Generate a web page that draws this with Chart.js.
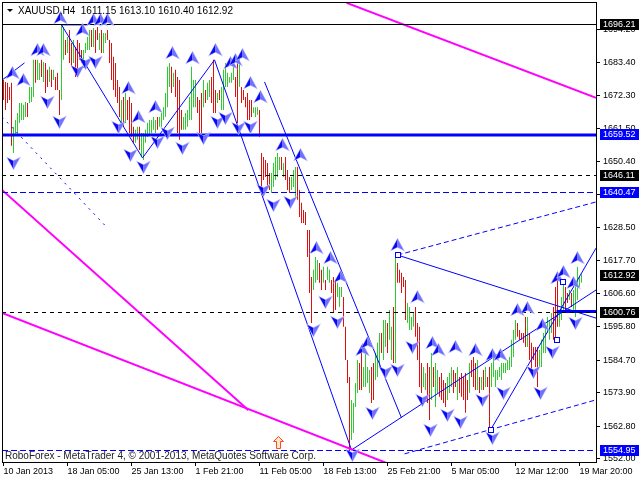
<!DOCTYPE html>
<html>
<head>
<meta charset="utf-8">
<script src="https://cdn.jsdelivr.net/npm/chart.js@4.4.1/dist/chart.umd.min.js"></script>
<style>
  html, body { margin: 0; padding: 0; background: #fff; }
  canvas { display: block; }
</style>
</head>
<body>
<canvas id="goldChart" width="640" height="480"></canvas>
<script>
// XAUUSD H4 bars (one bar every 4 hours)
const barHigh = [
  1677.5, 1676.9, 1676.6, 1675.2, 1676.6, 1662.0, 1664.3, 1666.6, 1669.9, 1669.9,
  1669.3, 1670.2, 1669.9, 1675.2, 1675.2, 1684.2, 1684.2, 1684.2, 1683.2, 1684.2,
  1683.5, 1683.2, 1680.9, 1681.9, 1680.9, 1680.9, 1678.5, 1679.9, 1674.2, 1695.8,
  1695.1, 1690.8, 1691.8, 1694.1, 1689.8, 1690.8, 1688.5, 1690.8, 1689.8, 1687.5,
  1687.5, 1689.8, 1691.8, 1694.1, 1694.1, 1694.8, 1694.1, 1695.1, 1693.1, 1694.1,
  1693.1, 1693.1, 1694.1, 1690.8, 1689.8, 1685.2, 1683.2, 1677.5, 1675.2, 1670.9,
  1671.9, 1673.2, 1670.9, 1671.9, 1669.9, 1662.0, 1661.0, 1662.0, 1662.0, 1660.0,
  1660.0, 1661.0, 1663.3, 1664.3, 1664.3, 1665.3, 1664.3, 1665.3, 1665.3, 1666.6,
  1668.5, 1673.2, 1681.9, 1683.2, 1681.9, 1679.9, 1680.9, 1678.5, 1677.5, 1667.6,
  1665.3, 1666.6, 1667.6, 1671.9, 1681.9, 1677.5, 1677.5, 1671.9, 1670.9, 1673.2,
  1677.5, 1674.2, 1676.6, 1677.5, 1678.5, 1684.2, 1674.2, 1673.2, 1674.2, 1675.2,
  1680.9, 1683.2, 1679.9, 1678.5, 1679.9, 1684.2, 1678.5, 1683.2, 1685.2, 1675.2,
  1674.2, 1671.9, 1673.2, 1670.9, 1670.9, 1668.5, 1668.5, 1668.5, 1667.6, 1653.3,
  1652.0, 1651.0, 1650.0, 1646.7, 1646.7, 1650.0, 1652.0, 1653.3, 1652.0, 1652.0,
  1650.0, 1652.0, 1647.7, 1645.4, 1645.4, 1647.7, 1648.7, 1648.7, 1641.1, 1636.8,
  1634.4, 1633.8, 1627.8, 1627.8, 1612.2, 1614.6, 1618.9, 1617.9, 1616.9, 1614.6,
  1615.6, 1611.2, 1615.6, 1614.6, 1611.2, 1612.2, 1611.2, 1610.3, 1608.9, 1608.9,
  1605.6, 1595.7, 1584.7, 1579.1, 1571.5, 1570.5, 1577.1, 1584.7, 1583.7, 1587.0,
  1582.4, 1587.0, 1582.4, 1581.4, 1582.4, 1583.7, 1587.0, 1590.4, 1593.7, 1593.7,
  1598.0, 1598.0, 1597.0, 1601.3, 1595.7, 1602.3, 1618.9, 1616.9, 1614.6, 1613.6,
  1612.2, 1611.2, 1603.6, 1602.3, 1599.0, 1600.3, 1602.3, 1597.0, 1595.7, 1583.7,
  1582.4, 1580.4, 1583.7, 1582.4, 1587.0, 1582.4, 1583.7, 1581.4, 1579.1, 1580.4,
  1578.1, 1577.1, 1579.1, 1580.4, 1582.4, 1581.4, 1580.4, 1582.4, 1579.1, 1580.4,
  1579.1, 1580.4, 1578.1, 1583.7, 1584.7, 1585.7, 1583.7, 1584.7, 1579.1, 1579.1,
  1581.4, 1582.4, 1579.1, 1582.4, 1583.7, 1585.7, 1581.4, 1581.4, 1582.4, 1583.7,
  1583.7, 1583.7, 1584.7, 1585.7, 1591.4, 1594.7, 1598.0, 1597.0, 1594.7, 1593.7,
  1593.7, 1599.0, 1599.0, 1593.7, 1590.4, 1589.0, 1589.0, 1589.0, 1588.0, 1591.4,
  1593.7, 1595.7, 1599.0, 1598.0, 1600.3, 1602.3, 1608.9, 1611.2, 1601.3, 1605.6,
  1611.2, 1608.9, 1606.9, 1607.9, 1606.9, 1607.9, 1611.2, 1615.6, 1612.2, 1613.1
];
const barLow = [
  1670.9, 1667.6, 1669.9, 1670.9, 1655.7, 1653.3, 1659.3, 1660.0, 1663.3, 1664.3,
  1664.3, 1665.3, 1665.3, 1669.9, 1670.2, 1671.9, 1676.6, 1677.5, 1677.5, 1678.5,
  1676.9, 1673.2, 1675.2, 1676.9, 1675.2, 1677.5, 1674.2, 1674.2, 1665.9, 1670.9,
  1684.2, 1685.8, 1686.5, 1683.2, 1681.9, 1683.2, 1678.5, 1679.9, 1684.2, 1683.2,
  1681.5, 1686.5, 1687.5, 1687.5, 1688.5, 1688.5, 1686.5, 1690.8, 1687.5, 1686.5,
  1686.5, 1689.8, 1690.8, 1683.2, 1677.5, 1674.2, 1671.9, 1669.9, 1665.3, 1663.3,
  1662.0, 1663.3, 1664.3, 1660.0, 1658.7, 1656.7, 1656.7, 1657.7, 1654.3, 1652.0,
  1651.0, 1656.7, 1658.7, 1659.3, 1660.0, 1661.0, 1660.0, 1661.0, 1662.0, 1662.0,
  1664.3, 1665.3, 1668.5, 1675.2, 1673.2, 1675.2, 1671.9, 1660.0, 1657.7, 1661.0,
  1661.0, 1661.0, 1662.0, 1664.3, 1664.3, 1668.5, 1668.5, 1666.6, 1660.0, 1660.0,
  1668.5, 1669.9, 1670.9, 1671.9, 1669.9, 1666.6, 1666.6, 1669.9, 1670.9, 1667.6,
  1667.6, 1675.2, 1675.2, 1676.6, 1676.6, 1677.5, 1671.9, 1663.3, 1675.2, 1669.9,
  1670.9, 1668.5, 1664.3, 1664.3, 1665.3, 1666.6, 1665.3, 1665.9, 1658.7, 1642.1,
  1644.4, 1645.4, 1642.1, 1641.1, 1640.1, 1642.1, 1644.4, 1645.4, 1647.7, 1647.7,
  1645.4, 1644.4, 1641.1, 1640.1, 1641.1, 1642.1, 1638.8, 1637.8, 1632.1, 1630.1,
  1630.1, 1629.5, 1618.9, 1606.9, 1597.0, 1607.9, 1610.3, 1611.2, 1610.3, 1607.9,
  1610.3, 1607.9, 1611.2, 1610.3, 1606.9, 1600.3, 1601.3, 1605.6, 1602.3, 1605.6,
  1595.7, 1584.7, 1577.1, 1554.9, 1558.2, 1560.5, 1569.1, 1573.8, 1574.8, 1574.8,
  1575.8, 1575.8, 1577.1, 1573.8, 1570.5, 1571.5, 1578.1, 1579.1, 1582.4, 1587.0,
  1584.7, 1589.0, 1587.0, 1591.4, 1584.7, 1583.7, 1583.7, 1610.3, 1610.3, 1606.9,
  1608.9, 1598.0, 1597.0, 1594.7, 1594.7, 1595.7, 1592.4, 1584.7, 1575.8, 1573.8,
  1575.8, 1574.8, 1570.5, 1564.8, 1571.5, 1575.8, 1569.1, 1573.8, 1572.5, 1571.5,
  1570.5, 1569.1, 1571.5, 1573.8, 1575.8, 1573.8, 1575.8, 1571.5, 1573.8, 1572.5,
  1571.5, 1567.2, 1571.5, 1573.8, 1579.1, 1575.8, 1574.8, 1574.8, 1573.8, 1574.8,
  1574.8, 1575.8, 1575.8, 1561.5, 1575.8, 1579.1, 1575.8, 1578.1, 1579.1, 1578.1,
  1580.4, 1580.4, 1581.4, 1581.4, 1582.4, 1585.7, 1591.4, 1592.4, 1591.4, 1591.4,
  1590.4, 1589.0, 1589.0, 1584.7, 1580.4, 1584.7, 1582.4, 1575.8, 1582.4, 1582.4,
  1587.0, 1587.0, 1593.7, 1591.4, 1593.7, 1591.4, 1591.4, 1595.7, 1595.7, 1598.0,
  1601.3, 1601.3, 1603.6, 1604.6, 1602.3, 1601.3, 1599.0, 1604.6, 1608.9, 1610.4
];
// g = bull bar, r = bear bar
const barDir = (
  'rrrrrggggg' + 'ggrgggrggr' + 'grrgrgrrrg' + 'grgrrgrrrr' + 'ggggrgrrgr' +
  'ggrrrrrrrg' + 'rgrrrrggrg' + 'gggggggrgg' + 'ggggrgrrrr' + 'gggggggrrr' +
  'grggrrrgrg' + 'ggggggrrgr' + 'rrrrrgggrr' + 'rrrrgggggr' + 'grrrgggrrr' +
  'rrrrrgggrr' + 'grggrrrggg' + 'rrrrggggrr' + 'ggggrrgggr' + 'ggrggrgrrr' +
  'rrggggrrrr' + 'ggrrgrggrr' + 'rrgggrrgrr' + 'rrrgrrrgrg' + 'rgrrgggggg' +
  'gggggggrrr' + 'rrgrrrrrgg' + 'gggggrrrgg' + 'grrgrggggg'
).split('');

const xTickLabels = ['10 Jan 2013', '18 Jan 05:00', '25 Jan 13:00', '1 Feb 21:00', '11 Feb 05:00',
  '18 Feb 13:00', '25 Feb 21:00', '5 Mar 05:00', '12 Mar 12:00', '19 Mar 20:00'];
const yTicks = [1694.20, 1683.40, 1672.30, 1661.50, 1650.40, 1639.60, 1628.50,
  1617.70, 1606.60, 1595.80, 1584.70, 1573.90, 1562.80, 1552.00];

// horizontal levels and the price tags on the right axis
const levelPrices = [1696.21, 1659.52, 1646.11, 1640.47, 1600.76, 1554.95];
const priceTags = [1696.21, 1659.52, 1646.11, 1640.47, 1612.92, 1600.76, 1554.95];

// drawn objects, [bar index, price]
const magentaLines = [
  [[171.5, 1703.1], [296.25, 1671.6]],
  [[-0.75, 1641.1], [122.5, 1568.1]],
  [[-0.75, 1600.3], [191.5, 1550.6]]
];
const blueLines = [
  [[-0.75, 1677.5], [10.5, 1683.2]],
  [[29, 1695.8], [69.5, 1651.7]],
  [[69.5, 1651.7], [105.5, 1684.2]],
  [[105.5, 1684.2], [174, 1554.9]],
  [[130.5, 1676.9], [199, 1565.5]],
  [[174, 1554.9], [296.25, 1607.9]],
  [[197, 1619.5], [296.25, 1598.6]],
  [[243.5, 1561.5], [296.25, 1621.8]],
  [[29, 1695.8], [42, 1695.8]]
];
const blueThickLines = [
  [[276.5, 1600.76], [296.25, 1600.76]]
];
const blueDotLines = [
  [[-0.75, 1665.3], [51.5, 1628.8]]
];
const blueDashLines = [
  [[197, 1619.5], [296.25, 1637.1]],
  [[200.5, 1553.6], [296.25, 1571.5]]
];
const fractalUp = [
  [4, 1679.9], [9.5, 1677.5], [16.5, 1687.5], [19.5, 1687.5], [28, 1698.1], [39, 1694.1],
  [44.5, 1697.4], [48, 1697.4], [51.5, 1697.4], [62, 1674.9], [67, 1665.3], [75.5, 1668.5],
  [84, 1686.5], [94, 1684.8], [105.5, 1687.5], [113, 1683.2], [115.5, 1684.2], [119, 1685.8],
  [123, 1676.6], [128, 1671.9], [139, 1656.0], [148, 1652.7], [156.5, 1621.9], [163, 1618.5],
  [168, 1612.2], [179, 1588.0], [182, 1590.4], [196.5, 1622.8], [206.5, 1605.6], [214, 1590.4],
  [217, 1588.0], [225.5, 1589.0], [235.5, 1588.0], [244, 1586.4], [248, 1586.4], [256.5, 1601.3],
  [261.5, 1602.0], [269, 1596.3], [276.5, 1611.9], [279.5, 1613.9], [284.5, 1610.3], [286.5, 1618.5]
];
const fractalDown = [
  [4.5, 1650.0], [21.5, 1670.2], [27.5, 1663.6], [36.5, 1680.5], [40.5, 1683.2], [45.5, 1683.5],
  [57, 1662.0], [63, 1652.7], [69.5, 1648.7], [76.5, 1657.0], [81.5, 1660.0], [89, 1655.0],
  [99.5, 1658.3], [106.5, 1663.6], [110.5, 1665.0], [117, 1661.6], [123, 1662.0], [129.5, 1641.1],
  [134.5, 1636.1], [143, 1637.1], [154.5, 1594.7], [160.5, 1604.0], [166.5, 1597.3], [174, 1553.2],
  [184, 1567.1], [190.5, 1580.7], [196.5, 1581.4], [204, 1589.0], [209, 1571.5], [213, 1561.5],
  [221.5, 1566.5], [228, 1564.2], [239, 1571.5], [244, 1558.9], [249.5, 1573.8], [264.5, 1580.7],
  [268, 1573.8], [274, 1587.4], [285.5, 1597.0]
];
const squareMarks = [[197.25, 1619.5], [243.75, 1561.5], [276.75, 1591.4], [279.75, 1610.6]];
const orangeArrow = [137.25, 1557.5];

const axisFont = { family: 'Liberation Sans', size: 9 };
const BULL = '#2ecc2e', BEAR = '#e01010', BLUE = '#0000ff', MAGENTA = '#ff00ff';

// line datasets for the trend objects
function segSets(list, color, width, dash) {
  return list.map(seg => ({
    type: 'line',
    data: seg.map(p => ({ x: p[0], y: p[1] })),
    borderColor: color,
    borderWidth: width,
    borderDash: dash,
    pointRadius: 0,
    fill: false,
    order: 0
  }));
}
var lineSets = [].concat(
  segSets(magentaLines, MAGENTA, 2, []),
  segSets(blueLines, BLUE, 1, []),
  segSets(blueThickLines, BLUE, 3, []),
  segSets(blueDotLines, BLUE, 1, [2, 5]),
  segSets(blueDashLines, BLUE, 1, [5, 3])
);

// two-tone arrowhead like the MT4 fractal glyph
function drawFractal(ctx, x, y, up) {
  var s = up ? 1 : -1;
  x = Math.round(x) + 0.5; y = Math.round(y);
  ctx.beginPath();
  ctx.moveTo(x, y - 6 * s); ctx.lineTo(x + 6, y + 5 * s); ctx.lineTo(x, y + 2 * s); ctx.lineTo(x - 6, y + 5 * s);
  ctx.closePath();
  ctx.strokeStyle = '#b4b4ff'; ctx.lineWidth = 1.2; ctx.stroke();
  ctx.beginPath();
  ctx.moveTo(x, y - 6 * s); ctx.lineTo(x - 6, y + 5 * s); ctx.lineTo(x, y + 2 * s); ctx.closePath();
  ctx.fillStyle = '#0a0af0'; ctx.fill();
  ctx.beginPath();
  ctx.moveTo(x, y - 6 * s); ctx.lineTo(x + 6, y + 5 * s); ctx.lineTo(x, y + 2 * s); ctx.closePath();
  ctx.fillStyle = '#7070ff'; ctx.fill();
}

// levels, fractals and marks on top of the bars
var overlayPlugin = {
  id: 'overlay',
  afterDatasetsDraw(chart) {
    var ctx = chart.ctx, xs = chart.scales.x, ys = chart.scales.y, a = chart.chartArea;
    var styles = [
      { c: '#000', w: 1, d: [] }, { c: BLUE, w: 3, d: [] }, { c: '#000', w: 1, d: [4, 4] },
      { c: BLUE, w: 1, d: [6, 3] }, { c: '#000', w: 1, d: [4, 4] }, { c: BLUE, w: 1, d: [6, 3] }
    ];
    ctx.save();
    ctx.beginPath(); ctx.rect(a.left, a.top, a.right - a.left, a.bottom - a.top); ctx.clip();
    levelPrices.forEach((v, k) => {
      var st = styles[k], y = Math.round(ys.getPixelForValue(v)) + (st.w % 2 ? 0.5 : 0) + (st.w > 1 ? 0.5 : 0);
      ctx.strokeStyle = st.c; ctx.lineWidth = st.w; ctx.setLineDash(st.d);
      ctx.beginPath(); ctx.moveTo(a.left, y); ctx.lineTo(a.right, y); ctx.stroke();
    });
    ctx.setLineDash([]);
    fractalUp.forEach(p => drawFractal(ctx, xs.getPixelForValue(p[0]), ys.getPixelForValue(p[1]), true));
    fractalDown.forEach(p => drawFractal(ctx, xs.getPixelForValue(p[0]), ys.getPixelForValue(p[1]), false));
    ctx.strokeStyle = BLUE; ctx.lineWidth = 1; ctx.fillStyle = '#fff';
    squareMarks.forEach(p => {
      var x = Math.round(xs.getPixelForValue(p[0])), y = Math.round(ys.getPixelForValue(p[1]));
      ctx.fillRect(x - 3, y - 3, 6, 6);
      ctx.strokeRect(x - 2.5, y - 2.5, 5, 5);
    });
    // small hollow up arrow near the bottom
    var ox = Math.round(xs.getPixelForValue(orangeArrow[0])) + 0.5, oy = Math.round(ys.getPixelForValue(orangeArrow[1])) + 0.5;
    ctx.beginPath();
    ctx.moveTo(ox, oy - 6); ctx.lineTo(ox + 5, oy - 1); ctx.lineTo(ox + 2, oy - 1); ctx.lineTo(ox + 2, oy + 6);
    ctx.lineTo(ox - 2, oy + 6); ctx.lineTo(ox - 2, oy - 1); ctx.lineTo(ox - 5, oy - 1); ctx.closePath();
    ctx.fillStyle = '#ffe6cc'; ctx.fill();
    ctx.strokeStyle = '#ff4a1a'; ctx.stroke();
    ctx.restore();
  },
  afterDraw(chart) {
    var ctx = chart.ctx, ys = chart.scales.y, a = chart.chartArea;
    var tagColors = ['#000', BLUE, '#000', BLUE, '#000', '#000', BLUE];
    ctx.save();
    ctx.strokeStyle = '#000'; ctx.lineWidth = 1;
    ctx.strokeRect(a.left + 0.5, a.top + 0.5, a.right - a.left, a.bottom - a.top);
    // price tags
    ctx.font = '9px "Liberation Sans"'; ctx.textBaseline = 'middle'; ctx.textAlign = 'left';
    priceTags.forEach((v, k) => {
      var y = Math.round(ys.getPixelForValue(v));
      ctx.fillStyle = tagColors[k];
      ctx.fillRect(a.right + 4, y - 5, 640 - a.right - 5, 11);
      ctx.fillStyle = '#fff';
      ctx.fillText(v.toFixed(2), a.right + 7, y + 0.5);
    });
    // symbol header and copyright
    ctx.fillStyle = '#000';
    ctx.beginPath(); ctx.moveTo(7, 9); ctx.lineTo(13, 9); ctx.lineTo(10, 12); ctx.closePath(); ctx.fill();
    ctx.font = '10px "Liberation Sans"'; ctx.textBaseline = 'alphabetic';
    ctx.fillText('XAUUSD,H4  1611.15 1613.10 1610.40 1612.92', 18, 13.5);
    ctx.fillStyle = '#222';
    ctx.fillText('RoboForex - MetaTrader 4, \u00a9 2001-2013, MetaQuotes Software Corp.', 5, 459);
    ctx.restore();
  }
};

var ctx = document.getElementById('goldChart').getContext('2d');
var goldChart = new Chart(ctx, {
  type: 'bar',
  data: {
    datasets: [{
      data: barHigh.map((h, i) => ({ x: i, y: [barLow[i], h] })),
      backgroundColor: barDir.map(d => d === 'g' ? BULL : BEAR),
      barThickness: 1,
      borderWidth: 0,
      inflateAmount: 0,
      order: 1
    }].concat(lineSets)
  },
  options: {
    responsive: false,
    animation: false,
    layout: { padding: { left: 2, top: 2, right: 0, bottom: 0 } },
    plugins: { legend: { display: false }, tooltip: { enabled: false } },
    scales: {
      x: {
        type: 'linear',
        offset: false,
        min: -0.75,
        max: 296.25,
        afterBuildTicks: s => { s.ticks = xTickLabels.map((t, k) => ({ value: k * 32 })); },
        afterFit: s => { s.height = 18; s.paddingLeft = 0; s.paddingRight = 0; },
        grid: { drawOnChartArea: false, tickLength: 4, color: '#000', offset: false },
        border: { display: false },
        ticks: {
          autoSkip: false, maxRotation: 0, align: 'start', padding: 0,
          color: '#000', font: axisFont,
          callback: (v, i) => xTickLabels[i]
        }
      },
      y: {
        position: 'right',
        min: 1550.91,
        max: 1703.38,
        afterBuildTicks: s => { s.ticks = yTicks.map(v => ({ value: v })); },
        afterFit: s => { s.width = 44; s.paddingTop = 0; s.paddingBottom = 0; },
        grid: { drawOnChartArea: false, tickLength: 4, color: '#000' },
        border: { display: false },
        ticks: {
          autoSkip: false, padding: 3, color: '#000', font: axisFont,
          callback: v => v.toFixed(2)
        }
      }
    }
  },
  plugins: [overlayPlugin]
});
</script>
</body>
</html>
